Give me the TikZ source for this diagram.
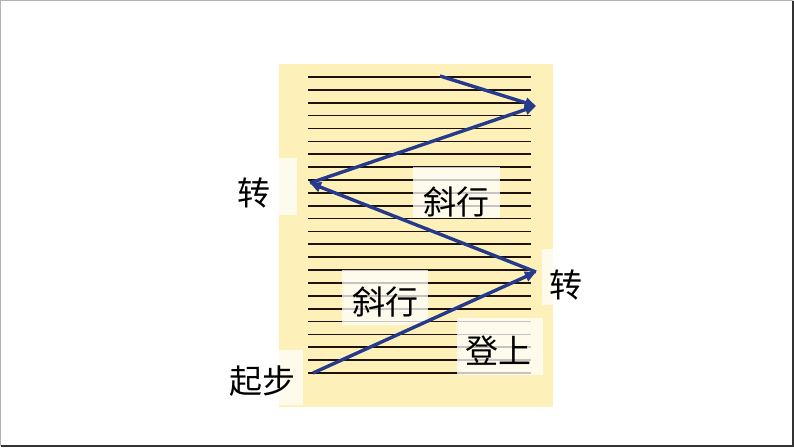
\documentclass[tikz,border=0pt]{standalone}
\usepackage{fontspec}
\setmainfont{Noto Sans CJK SC}
\usetikzlibrary{arrows.meta}
\definecolor{paper}{RGB}{253,240,184}
\definecolor{pathblue}{RGB}{38,58,140}
\tikzset{
  rule/.style={line width=1.7pt, black!85!brown},
  walk/.style={line width=3.4pt, pathblue, -{Triangle[length=11pt,width=10pt]}},
  labelbox/.style={fill=white, fill opacity=0.75},
  word/.style={font=\fontsize{33}{36}\selectfont, inner sep=0pt}
}
\begin{document}
\begin{tikzpicture}[x=1pt,y=-1pt]
    \useasboundingbox (0,0) rectangle (794,447);
    \fill[white] (0,0) rectangle (794,447);
    \draw[gray!60, line width=1pt] (0.5,446) -- (0.5,0.5) -- (793,0.5);
    \draw[black!80, line width=2pt] (1,446) -- (793,446) -- (793,1);

    % the sheet
    \fill[paper] (279,64) rectangle (553,407);
    \foreach \i in {0,...,23}
        \draw[rule] (308,{77+12.87*\i}) -- (531,{77+12.87*\i});

    % turning points of the walk
    \coordinate (S) at (313,373);
    \coordinate (R1) at (536,272);
    \coordinate (L1) at (310,183);
    \coordinate (R2) at (536,106);
    \coordinate (T) at (440,76);

    % label backgrounds
    \fill[labelbox] (279,158) rectangle (297,215);   % left turn
    \fill[labelbox] (542,249) rectangle (553,305);   % right turn
    \fill[labelbox] (413,167) rectangle (500,218);   % upper slant
    \fill[labelbox] (342,270) rectangle (428,325);   % lower slant
    \fill[labelbox] (457,318) rectangle (543,375);   % climb up
    \fill[labelbox] (279,350) rectangle (303,405);   % start

    \draw[walk] (S) -- (R1);
    \draw[walk] (R1) -- (L1);
    \draw[walk] (L1) -- (R2);
    \draw[walk] (T) -- (R2);

    % the words
    \node[word] (turnL) at (254,193) {转};
    \node[word] (turnR) at (566,285) {转};
    \node[word] (slantU) at (456,202) {斜行};
    \node[word] (slantD) at (385,302) {斜行};
    \node[word] (climb) at (498,351) {登上};
    \node[word] (start) at (262,381) {起步};
\end{tikzpicture}
\end{document}
